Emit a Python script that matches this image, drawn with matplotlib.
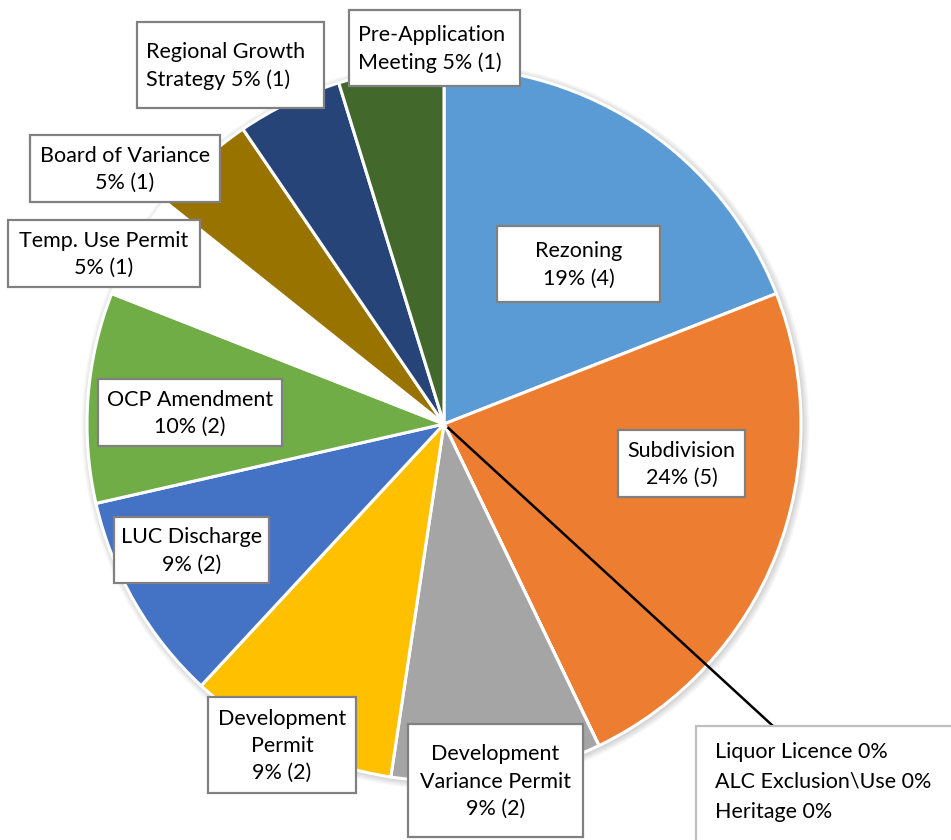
import matplotlib.pyplot as plt
from matplotlib.patches import Rectangle, Circle
import numpy as np

# slice data, clockwise from 12 o'clock
names = ['Rezoning', 'Subdivision', 'Liquor Licence', 'ALC Exclusion\\Use', 'Heritage',
         'Development Variance Permit', 'Development Permit', 'LUC Discharge',
         'OCP Amendment', 'Temp. Use Permit', 'Board of Variance',
         'Regional Growth Strategy', 'Pre-Application Meeting']
counts = [4, 5, 0, 0, 0, 2, 2, 2, 2, 1, 1, 1, 1]
percents = [19, 24, 0, 0, 0, 9, 9, 9, 10, 5, 5, 5, 5]
colors = ['#5B9BD5', '#ED7D31', '#9E480E', '#636363', '#255E91', '#A5A5A5', '#FFC000',
          '#4472C4', '#70AD47', '#FFFFFF', '#997300', '#264478', '#43682B']

# wrapped label names as shown in the chart
label_names = ['Rezoning\n', 'Subdivision\n', None, None, None,
               'Development\nVariance Permit\n', 'Development\nPermit\n', 'LUC Discharge\n',
               'OCP Amendment\n', 'Temp. Use Permit\n', 'Board of Variance\n',
               'Regional Growth\nStrategy ', 'Pre-Application\nMeeting ']

W, H = 951, 840
plt.rcParams['font.family'] = ['Lato', 'DejaVu Sans']

fig = plt.figure(figsize=(W / 100, H / 100), dpi=100)
ax = fig.add_axes([0, 0, 1, 1])


def fy(y):
    # pixel row (top origin) -> data y
    return H - y


cx, cy, r = 444, fy(424), 357

# soft shadow around the pie
for k in range(1, 8):
    ax.add_patch(Circle((cx + 1.5, cy - 1.5), r + k, color='black', alpha=0.025, lw=0, zorder=0))

ax.pie(counts, colors=colors, startangle=90, counterclock=False, center=(cx, cy), radius=r,
       wedgeprops=dict(edgecolor='white', linewidth=2.2), frame=True)
ax.set_xlim(0, W)
ax.set_ylim(0, H)
ax.axis('off')

# label box layout: (left, top, right, bottom) in pixels, alignment
boxes = {
    0: ((497, 226, 660, 302), 'center'),
    1: ((618, 430, 745, 497), 'center'),
    5: ((408, 724, 583, 837), 'center'),
    6: ((208, 697, 356, 793), 'center'),
    7: ((114, 517, 269, 583), 'center'),
    8: ((98, 379, 282, 446), 'center'),
    9: ((8, 220, 200, 287), 'center'),
    10: ((30, 135, 220, 202), 'center'),
    11: ((137, 22, 324, 108), 'left'),
    12: ((349, 10, 520, 86), 'left'),
}

for i, ((x0, y0, x1, y1), align) in boxes.items():
    ax.add_patch(Rectangle((x0, fy(y1)), x1 - x0, y1 - y0, fc='white', ec='#808080',
                           lw=1.6, zorder=5))
    s = f'{label_names[i]}{percents[i]}% ({counts[i]})'
    if align == 'center':
        ax.text((x0 + x1) / 2, fy((y0 + y1) / 2 + 1), s, ha='center', va='center',
                multialignment='center', fontsize=15.5, linespacing=1.45, color='black', zorder=6)
    else:
        ax.text(x0 + 9, fy((y0 + y1) / 2 + 1), s, ha='left', va='center',
                multialignment='left', fontsize=15.5, linespacing=1.45, color='black', zorder=6)

# zero-value slices share one box with a leader line
zero_idx = [i for i, c in enumerate(counts) if c == 0]
zero_text = '\n'.join(f'{names[i]} {percents[i]}%' for i in zero_idx)
bx0, by0 = 696, 726
ax.add_patch(Rectangle((bx0, fy(H + 5)), W - bx0 + 5, H + 5 - by0, fc='white', ec='#BFBFBF',
                       lw=1.6, zorder=5))
ax.text(715, fy(782), zero_text, ha='left', va='center', fontsize=15.5, linespacing=1.6,
        color='black', zorder=6)
lx, ly = 773, fy(by0)
d = np.hypot(lx - cx, ly - cy)
ax.plot([cx + (lx - cx) * 6 / d, lx], [cy + (ly - cy) * 6 / d, ly], color='black', lw=1.8,
        zorder=4)

fig.savefig('out.png', dpi=100, facecolor='white')
